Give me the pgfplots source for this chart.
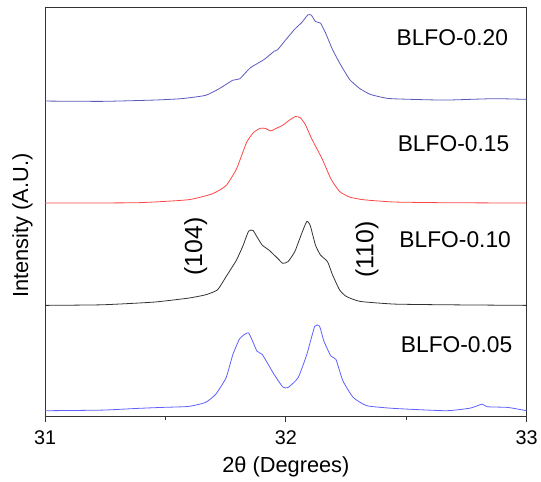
\documentclass[border=0pt]{standalone}
\usepackage{pgfplots}
\pgfplotsset{compat=1.18}
\usepackage{fontspec}
\setmainfont{Liberation Sans}
\definecolor{cTop}{RGB}{90,90,190}
\definecolor{cRed}{RGB}{255,70,70}
\definecolor{cBlk}{RGB}{50,50,50}
\definecolor{cBlue}{RGB}{95,95,255}
\begin{document}
\begin{tikzpicture}
\begin{axis}[
  scale only axis,
  width=484.7bp, height=412bp,
  xmin=31, xmax=33, ymin=66, ymax=478,
  xtick={31,32,33},
  minor x tick num=1,
  xtick pos=bottom,
  ytick=\empty,
  tick align=outside,
  major tick length=6bp,
  minor tick length=4bp,
  axis line style={line width=0.9bp, black!80},
  every tick/.style={line width=0.9bp, black!80},
  xticklabel style={font=\fontsize{20}{20}\selectfont, yshift=-5bp},
  /pgf/number format/assume math mode=true,
  xlabel={2θ (Degrees)},
  ylabel={Intensity (A.U.)},
  xlabel style={font=\fontsize{22}{22}\selectfont, at={(rel axis cs:0.5,-0.124)}, anchor=center},
  ylabel style={font=\fontsize{22}{22}\selectfont, at={(rel axis cs:-0.047,0.466)}, anchor=center},
  every axis plot/.append style={line width=0.8bp, no marks, smooth, tension=0.3},
]
% BLFO-0.20
\addplot[cTop] coordinates {
(31.000,383.3) (31.238,383.0) (31.452,384.3) (31.566,385.7) (31.666,389.0)
(31.723,395.7) (31.780,404.3) (31.809,405.7) (31.852,416.7) (31.909,425.0)
(31.951,433.3) (31.966,435.0) (31.994,443.3) (32.037,455.7) (32.066,462.3)
(32.091,470.0) (32.106,469.7) (32.123,463.3) (32.144,461.7) (32.165,451.7)
(32.194,435.0) (32.223,421.7) (32.265,405.0) (32.308,395.7) (32.351,390.0)
(32.422,386.0) (32.522,385.0) (32.665,384.3) (32.864,385.7) (33.000,385.0)
};
% BLFO-0.15
\addplot[cRed] coordinates {
(31.000,280.7) (31.381,281.0) (31.595,284.0) (31.695,290.0) (31.752,298.3)
(31.795,315.0) (31.837,341.7) (31.866,351.7) (31.894,356.0) (31.916,355.7)
(31.937,353.3) (31.959,355.7) (31.987,359.0) (32.016,364.3) (32.040,367.7)
(32.059,366.7) (32.080,360.0) (32.108,345.0) (32.151,325.0) (32.187,305.0)
(32.223,292.3) (32.265,286.7) (32.322,284.0) (32.451,281.7) (32.665,281.0)
(33.000,280.7)
};
% BLFO-0.10
\addplot[cBlk] coordinates {
(31.000,177.7) (31.238,178.3) (31.452,181.0) (31.595,185.0) (31.666,188.3)
(31.716,193.3) (31.752,206.7) (31.795,223.3) (31.823,238.3) (31.845,252.3)
(31.863,253.3) (31.880,246.7) (31.902,238.3) (31.930,233.3) (31.966,225.0)
(31.987,220.0) (32.009,221.7) (32.037,231.7) (32.063,248.3) (32.087,262.3)
(32.101,258.3) (32.123,238.3) (32.144,228.3) (32.173,221.7) (32.194,208.3)
(32.223,193.3) (32.251,186.7) (32.308,181.7) (32.451,179.0) (32.665,178.3)
(33.000,177.7)
};
% BLFO-0.05
\addplot[cBlue] coordinates {
(31.000,71.7) (31.238,72.3) (31.381,74.0) (31.481,75.0) (31.595,76.0)
(31.666,80.0) (31.709,88.3) (31.752,105.0) (31.780,128.3) (31.809,144.3)
(31.845,150.0) (31.880,131.7) (31.902,128.3) (31.951,108.3) (31.987,95.7)
(32.009,95.0) (32.051,105.0) (32.087,128.3) (32.120,156.7) (32.140,156.7)
(32.158,141.7) (32.187,126.7) (32.208,123.3) (32.237,101.7) (32.280,85.0)
(32.337,76.7) (32.451,74.0) (32.665,71.7) (32.765,74.3) (32.815,78.3)
(32.836,75.7) (32.922,75.0) (33.000,71.7)
};
\node[font=\fontsize{23}{23}\selectfont] at (axis cs:32.691,447.5) {BLFO-0.20};
\node[font=\fontsize{23}{23}\selectfont] at (axis cs:32.696,340) {BLFO-0.15};
\node[font=\fontsize{23}{23}\selectfont] at (axis cs:32.703,244.3) {BLFO-0.10};
\node[font=\fontsize{23}{23}\selectfont] at (axis cs:32.709,138.3) {BLFO-0.05};
\node[font=\fontsize{25}{25}\selectfont, rotate=90] at (axis cs:31.626,237) {(104)};
\node[font=\fontsize{25}{25}\selectfont, rotate=90] at (axis cs:32.337,234) {(110)};
\end{axis}
\path ([shift={(-45.3bp,-66bp)}]current axis.south west) rectangle ([shift={(11bp,7bp)}]current axis.north east);
\end{tikzpicture}
\end{document}
